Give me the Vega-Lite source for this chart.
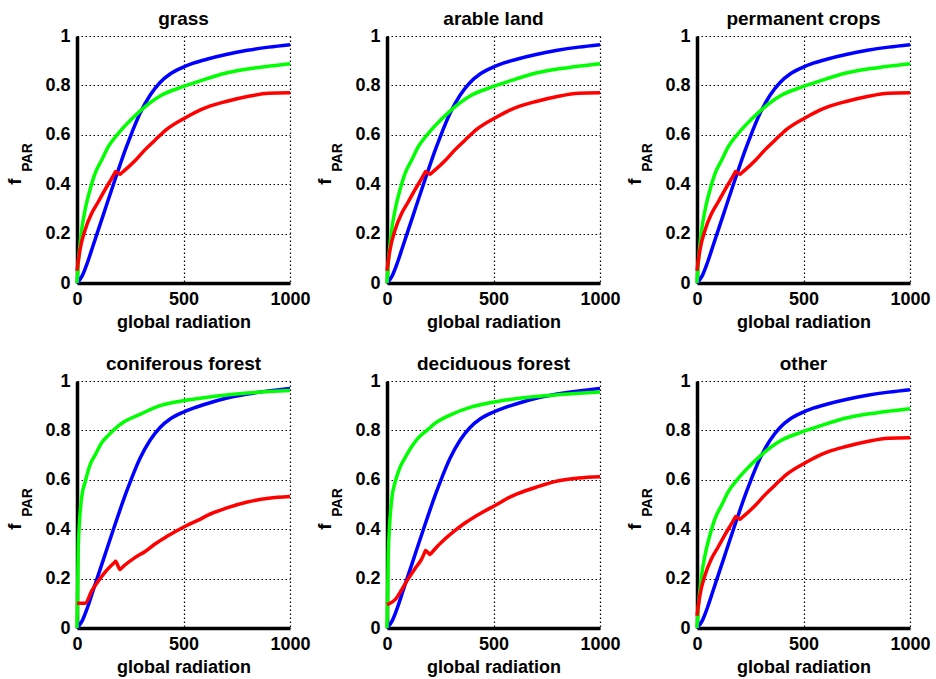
{
"$schema": "https://vega.github.io/schema/vega-lite/v6.json",
"padding": {"left": 5, "top": 10, "right": 5, "bottom": 5},
"data": {"values": [
{"s":"blue","x":0,"g":0,"a":0,"p":0,"c":0,"d":0,"o":0},
{"s":"blue","x":25,"g":0.03,"a":0.03,"p":0.03,"c":0.03,"d":0.03,"o":0.03},
{"s":"blue","x":50,"g":0.085,"a":0.085,"p":0.085,"c":0.085,"d":0.085,"o":0.085},
{"s":"blue","x":75,"g":0.15,"a":0.15,"p":0.15,"c":0.15,"d":0.15,"o":0.15},
{"s":"blue","x":100,"g":0.215,"a":0.215,"p":0.215,"c":0.215,"d":0.215,"o":0.215},
{"s":"blue","x":125,"g":0.28,"a":0.28,"p":0.28,"c":0.28,"d":0.28,"o":0.28},
{"s":"blue","x":150,"g":0.345,"a":0.345,"p":0.345,"c":0.345,"d":0.345,"o":0.345},
{"s":"blue","x":175,"g":0.41,"a":0.41,"p":0.41,"c":0.41,"d":0.41,"o":0.41},
{"s":"blue","x":200,"g":0.473,"a":0.473,"p":0.473,"c":0.473,"d":0.473,"o":0.473},
{"s":"blue","x":225,"g":0.535,"a":0.535,"p":0.535,"c":0.535,"d":0.535,"o":0.535},
{"s":"blue","x":250,"g":0.592,"a":0.592,"p":0.592,"c":0.592,"d":0.592,"o":0.592},
{"s":"blue","x":296,"g":0.687,"a":0.687,"p":0.687,"c":0.687,"d":0.687,"o":0.687},
{"s":"blue","x":343,"g":0.76,"a":0.76,"p":0.76,"c":0.76,"d":0.76,"o":0.76},
{"s":"blue","x":390,"g":0.812,"a":0.812,"p":0.812,"c":0.812,"d":0.812,"o":0.812},
{"s":"blue","x":437,"g":0.846,"a":0.846,"p":0.846,"c":0.846,"d":0.846,"o":0.846},
{"s":"blue","x":491,"g":0.871,"a":0.871,"p":0.871,"c":0.871,"d":0.871,"o":0.871},
{"s":"blue","x":546,"g":0.89,"a":0.89,"p":0.89,"c":0.89,"d":0.89,"o":0.89},
{"s":"blue","x":609,"g":0.906,"a":0.906,"p":0.906,"c":0.908,"d":0.908,"o":0.906},
{"s":"blue","x":700,"g":0.925,"a":0.925,"p":0.925,"c":0.93,"d":0.93,"o":0.925},
{"s":"blue","x":800,"g":0.942,"a":0.942,"p":0.942,"c":0.947,"d":0.947,"o":0.942},
{"s":"blue","x":900,"g":0.955,"a":0.955,"p":0.955,"c":0.96,"d":0.96,"o":0.955},
{"s":"blue","x":1000,"g":0.965,"a":0.965,"p":0.965,"c":0.97,"d":0.97,"o":0.965},
{"s":"green","x":0,"g":0,"a":0,"p":0,"c":0,"d":0,"o":0},
{"s":"green","x":6,"g":0.08,"a":0.08,"p":0.08,"c":0.33,"d":0.3,"o":0.08},
{"s":"green","x":22,"g":0.215,"a":0.215,"p":0.215,"c":0.53,"d":0.52,"o":0.215},
{"s":"green","x":38,"g":0.296,"a":0.296,"p":0.296,"c":0.59,"d":0.59,"o":0.296},
{"s":"green","x":61,"g":0.377,"a":0.377,"p":0.377,"c":0.66,"d":0.65,"o":0.377},
{"s":"green","x":85,"g":0.444,"a":0.444,"p":0.444,"c":0.7,"d":0.69,"o":0.444},
{"s":"green","x":116,"g":0.498,"a":0.498,"p":0.498,"c":0.75,"d":0.735,"o":0.498},
{"s":"green","x":147,"g":0.552,"a":0.552,"p":0.552,"c":0.78,"d":0.77,"o":0.552},
{"s":"green","x":194,"g":0.606,"a":0.606,"p":0.606,"c":0.818,"d":0.805,"o":0.606},
{"s":"green","x":225,"g":0.636,"a":0.636,"p":0.636,"c":0.837,"d":0.828,"o":0.636},
{"s":"green","x":296,"g":0.696,"a":0.696,"p":0.696,"c":0.865,"d":0.862,"o":0.696},
{"s":"green","x":390,"g":0.757,"a":0.757,"p":0.757,"c":0.9,"d":0.893,"o":0.757},
{"s":"green","x":484,"g":0.791,"a":0.791,"p":0.791,"c":0.918,"d":0.912,"o":0.791},
{"s":"green","x":577,"g":0.818,"a":0.818,"p":0.818,"c":0.93,"d":0.925,"o":0.818},
{"s":"green","x":700,"g":0.85,"a":0.85,"p":0.85,"c":0.943,"d":0.937,"o":0.85},
{"s":"green","x":800,"g":0.866,"a":0.866,"p":0.866,"c":0.951,"d":0.944,"o":0.866},
{"s":"green","x":900,"g":0.878,"a":0.878,"p":0.878,"c":0.957,"d":0.95,"o":0.878},
{"s":"green","x":1000,"g":0.888,"a":0.888,"p":0.888,"c":0.962,"d":0.955,"o":0.888},
{"s":"red","x":0,"g":0.05,"a":0.05,"p":0.05,"c":0.1,"d":0.095,"o":0.05},
{"s":"red","x":14,"g":0.134,"a":0.134,"p":0.134,"c":0.1,"d":0.1,"o":0.134},
{"s":"red","x":38,"g":0.215,"a":0.215,"p":0.215,"c":0.1,"d":0.115,"o":0.215},
{"s":"red","x":69,"g":0.282,"a":0.282,"p":0.282,"c":0.15,"d":0.155,"o":0.282},
{"s":"red","x":100,"g":0.329,"a":0.329,"p":0.329,"c":0.19,"d":0.2,"o":0.329},
{"s":"red","x":131,"g":0.377,"a":0.377,"p":0.377,"c":0.225,"d":0.24,"o":0.377},
{"s":"red","x":163,"g":0.424,"a":0.424,"p":0.424,"c":0.255,"d":0.28,"o":0.424},
{"s":"red","x":177,"g":0.445,"a":0.445,"p":0.445,"c":0.266,"d":0.306,"o":0.445},
{"s":"red","x":181,"g":0.451,"a":0.451,"p":0.451,"c":0.27,"d":0.314,"o":0.451},
{"s":"red","x":202,"g":0.44,"a":0.44,"p":0.44,"c":0.237,"d":0.298,"o":0.44},
{"s":"red","x":206,"g":0.443,"a":0.443,"p":0.443,"c":0.24,"d":0.301,"o":0.443},
{"s":"red","x":225,"g":0.457,"a":0.457,"p":0.457,"c":0.255,"d":0.32,"o":0.457},
{"s":"red","x":272,"g":0.495,"a":0.495,"p":0.495,"c":0.285,"d":0.36,"o":0.495},
{"s":"red","x":320,"g":0.54,"a":0.54,"p":0.54,"c":0.31,"d":0.395,"o":0.54},
{"s":"red","x":366,"g":0.578,"a":0.578,"p":0.578,"c":0.34,"d":0.425,"o":0.578},
{"s":"red","x":421,"g":0.622,"a":0.622,"p":0.622,"c":0.37,"d":0.455,"o":0.622},
{"s":"red","x":515,"g":0.672,"a":0.672,"p":0.672,"c":0.415,"d":0.5,"o":0.672},
{"s":"red","x":577,"g":0.7,"a":0.7,"p":0.7,"c":0.44,"d":0.53,"o":0.7},
{"s":"red","x":617,"g":0.714,"a":0.714,"p":0.714,"c":0.458,"d":0.545,"o":0.714},
{"s":"red","x":700,"g":0.735,"a":0.735,"p":0.735,"c":0.485,"d":0.57,"o":0.735},
{"s":"red","x":800,"g":0.755,"a":0.755,"p":0.755,"c":0.51,"d":0.595,"o":0.755},
{"s":"red","x":900,"g":0.768,"a":0.768,"p":0.768,"c":0.525,"d":0.607,"o":0.768},
{"s":"red","x":1000,"g":0.77,"a":0.77,"p":0.77,"c":0.532,"d":0.612,"o":0.77}
]},
"transform": [
{"fold": ["g","a","p","c","d","o"], "as": ["key","y"]},
{"lookup": "key", "from": {"data": {"values": [
{"key":"g","panel":"grass"},{"key":"a","panel":"arable land"},{"key":"p","panel":"permanent crops"},
{"key":"c","panel":"coniferous forest"},{"key":"d","panel":"deciduous forest"},{"key":"o","panel":"other"}
]}, "key": "key", "fields": ["panel"]}}
],
"facet": {"field": "panel", "type": "nominal",
"sort": ["grass","arable land","permanent crops","coniferous forest","deciduous forest","other"],
"header": {"title": null, "labelFontSize": 19, "labelFontWeight": "bold", "labelFont": "Liberation Sans", "labelColor": "black", "labelPadding": -2}},
"columns": 3,
"bounds": "flush",
"spacing": {"column": 97, "row": 98},
"spec": {
"width": 213, "height": 247,
"layer": [
{"transform": [{"filter": {"field": "s", "oneOf": ["blue", "green"]}}],
"mark": {"type": "line", "strokeWidth": 3.5, "strokeJoin": "round", "interpolate": "monotone"},
"encoding": {
"x": {"field": "x", "type": "quantitative", "scale": {"domain": [0, 1000], "nice": false},
"axis": {"values": [0, 500, 1000], "format": "d", "title": "global radiation", "grid": true}},
"y": {"field": "y", "type": "quantitative", "scale": {"domain": [0, 1], "nice": false},
"axis": {"values": [0, 0.2, 0.4, 0.6, 0.8, 1], "format": "~g", "title": "f", "grid": true,
"titleFontSize": 19, "titleX": -63, "titleY": 145, "titleAngle": 270, "titleAlign": "center", "titleBaseline": "middle"}},
"color": {"field": "s", "type": "nominal", "scale": {"domain": ["blue","green","red"], "range": ["#0000ff","#00ff00","#ff0000"]}, "legend": null},
"order": {"field": "x", "type": "quantitative"}
}},
{"transform": [{"filter": {"field": "s", "equal": "red"}}],
"mark": {"type": "line", "strokeWidth": 3.5, "strokeJoin": "round", "interpolate": "monotone"},
"encoding": {
"x": {"field": "x", "type": "quantitative", "scale": {"domain": [0, 1000], "nice": false}},
"y": {"field": "y", "type": "quantitative", "scale": {"domain": [0, 1], "nice": false}, "axis": null},
"color": {"field": "s", "type": "nominal", "scale": {"domain": ["blue","green","red"], "range": ["#0000ff","#00ff00","#ff0000"]}, "legend": null},
"order": {"field": "x", "type": "quantitative"}
}},
{"mark": {"type": "line", "opacity": 0},
"encoding": {
"x": {"field": "x", "type": "quantitative", "scale": {"domain": [0, 1000], "nice": false}},
"y": {"field": "y", "type": "quantitative", "scale": {"domain": [0, 1], "nice": false},
"axis": {"orient": "left", "title": "PAR", "grid": false, "labels": false, "ticks": false, "domain": false,
"titleFontSize": 14, "titleX": -50, "titleY": 121, "titleAngle": 270, "titleAlign": "center", "titleBaseline": "middle"}},
"detail": {"field": "s", "type": "nominal"}
}}
],
"resolve": {"axis": {"y": "independent"}}
},
"resolve": {"axis": {"x": "independent", "y": "independent"}},
"config": {
"font": "Liberation Sans",
"view": {"stroke": null},
"axis": {
"labelFont": "Liberation Sans", "labelFontSize": 18, "labelFontWeight": "bold", "labelColor": "black",
"titleFont": "Liberation Sans", "titleFontSize": 18, "titleFontWeight": "bold", "titleColor": "black",
"domainColor": "black", "domainWidth": 3.5, "ticks": false,
"gridColor": "black", "gridOpacity": 1, "gridDash": [1.5, 2.5], "gridWidth": 1.2,
"labelPadding": 7, "titlePadding": 5, "labelFlush": false, "labelOverlap": false
}
}
}
